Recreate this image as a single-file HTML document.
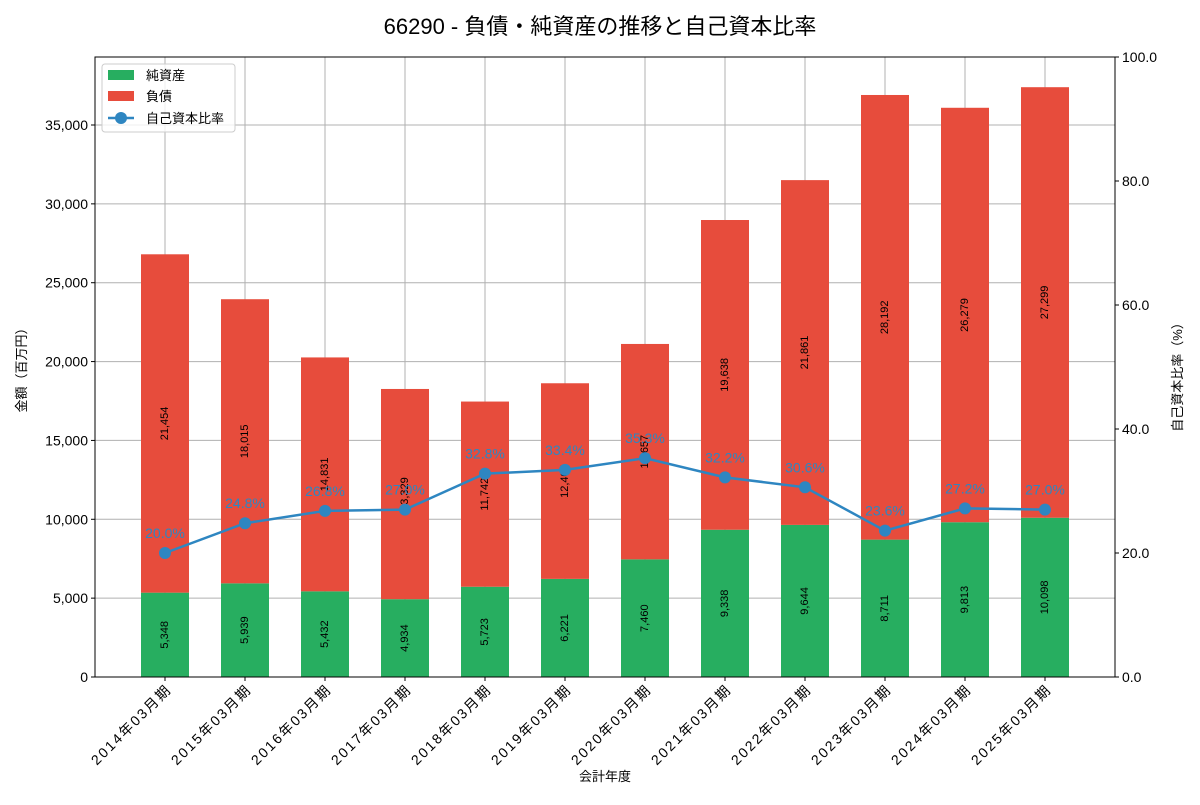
<!DOCTYPE html>
<html><head><meta charset="utf-8">
<style>
html,body{margin:0;padding:0;background:#fff;}
svg text{font-family:"Liberation Sans","Noto Sans CJK JP",sans-serif;}
</style></head>
<body>
<svg id="chart" width="1200" height="800" xmlns="http://www.w3.org/2000/svg"></svg>
<script>
const categories = ["2014年03月期","2015年03月期","2016年03月期","2017年03月期","2018年03月期","2019年03月期","2020年03月期","2021年03月期","2022年03月期","2023年03月期","2024年03月期","2025年03月期"];
const netAssets = [5348,5939,5432,4934,5723,6221,7460,9338,9644,8711,9813,10098];
const liabilities = [21454,18015,14831,13329,11742,12404,13657,19638,21861,28192,26279,27299];
const equityRatio = [20.0,24.8,26.8,27.0,32.8,33.4,35.3,32.2,30.6,23.6,27.2,27.0];
const leftTicks = [0,5000,10000,15000,20000,25000,30000,35000];
const rightTicks = [0,20,40,60,80,100];

const svg = document.getElementById('chart');
const NS = 'http://www.w3.org/2000/svg';
const L=95,R=1115,T=57,B=677;
const yMax = (B-T)/((B-125)/35000);
const xS = i => L + (i+0.875)*80;
const yL = v => B - v/yMax*(B-T);
const yR = v => B - v/100*(B-T);
function mk(tag, attrs, text){const e=document.createElementNS(NS,tag);for(const k in attrs)e.setAttribute(k,attrs[k]);if(text!==undefined)e.textContent=text;svg.appendChild(e);return e;}
const fmt = v => v.toLocaleString('en-US');

let e;
leftTicks.forEach(t=>{e=mk('line',{x1:L,x2:R,y1:yL(t),y2:yL(t),stroke:'#b0b0b0','stroke-width':1});

});
categories.forEach((c,i)=>{e=mk('line',{x1:xS(i),x2:xS(i),y1:T,y2:B,stroke:'#b0b0b0','stroke-width':1});

});

categories.forEach((c,i)=>{
  const x=xS(i)-24;
  e=mk('rect',{x:x,y:yL(netAssets[i]),width:48,height:B-yL(netAssets[i]),fill:'#27ae60'});
  
  
  const top=netAssets[i]+liabilities[i];
  e=mk('rect',{x:x,y:yL(top),width:48,height:yL(netAssets[i])-yL(top),fill:'#e74c3c'});
  
  
});
categories.forEach((c,i)=>{
  const cx=xS(i);
  const y1=yL(netAssets[i]/2), y2=yL(netAssets[i]+liabilities[i]/2);
  e=mk('text',{x:cx,y:y1,'font-size':11,'text-anchor':'middle','dominant-baseline':'central',transform:`rotate(-90 ${cx} ${y1})`},fmt(netAssets[i]));
  
  
  e=mk('text',{x:cx,y:y2,'font-size':11,'text-anchor':'middle','dominant-baseline':'central',transform:`rotate(-90 ${cx} ${y2})`},fmt(liabilities[i]));
  
  
});
e=mk('polyline',{points:equityRatio.map((v,i)=>xS(i)+','+yR(v)).join(' '),fill:'none',stroke:'#2e86c1','stroke-width':2.5});


equityRatio.forEach((v,i)=>{
  e=mk('circle',{cx:xS(i),cy:yR(v),r:6,fill:'#2e86c1'});
  
  
  e=mk('text',{x:xS(i),y:yR(v)-15,'font-size':14,'text-anchor':'middle',fill:'#2e86c1'},v.toFixed(1)+'%');
  
  
});
e=mk('rect',{x:L,y:T,width:R-L,height:B-T,fill:'none',stroke:'#000','stroke-width':1});


leftTicks.forEach(t=>{
  mk('line',{x1:L-4,x2:L,y1:yL(t),y2:yL(t),stroke:'#000'});
  e=mk('text',{x:L-7,y:yL(t),'font-size':14,'text-anchor':'end','dominant-baseline':'central'},fmt(t));
  
  
});
rightTicks.forEach(t=>{
  mk('line',{x1:R,x2:R+4,y1:yR(t),y2:yR(t),stroke:'#000'});
  e=mk('text',{x:R+7,y:yR(t),'font-size':14,'text-anchor':'start','dominant-baseline':'central'},t.toFixed(1));
  
  
});
categories.forEach((c,i)=>{
  const x=xS(i);
  mk('line',{x1:x,x2:x,y1:B,y2:B+4,stroke:'#000'});
  e=mk('text',{x:x,y:B+6,'font-size':14,'letter-spacing':'2px','text-anchor':'end','dominant-baseline':'hanging',transform:`rotate(-45 ${x} ${B+6})`},c);
  
  
});
e=mk('text',{x:600,y:34,'font-size':22,'text-anchor':'middle'},'66290 - 負債・純資産の推移と自己資本比率');


e=mk('text',{x:605,y:781,'font-size':13,'text-anchor':'middle'},'会計年度');


e=mk('text',{x:26,y:367,'font-size':13,'text-anchor':'middle',transform:'rotate(-90 26 367)'},'金額（百万円）');


e=mk('text',{x:1182,y:374,'font-size':13,'text-anchor':'middle',transform:'rotate(-90 1182 374)'},'自己資本比率（%）');


e=mk('rect',{x:102,y:64,width:133,height:68,fill:'#fff','fill-opacity':0.8,stroke:'#ccc',rx:3});


e=mk('rect',{x:108,y:70,width:26,height:10,fill:'#27ae60'});


e=mk('text',{x:146,y:80,'font-size':13},'純資産');


e=mk('rect',{x:108,y:91,width:26,height:10,fill:'#e74c3c'});


e=mk('text',{x:146,y:101,'font-size':13},'負債');


e=mk('line',{x1:108,x2:134,y1:118,y2:118,stroke:'#2e86c1','stroke-width':2.5});


e=mk('circle',{cx:121,cy:118,r:6,fill:'#2e86c1'});


e=mk('text',{x:146,y:123,'font-size':13},'自己資本比率');


</script>
</body></html>
